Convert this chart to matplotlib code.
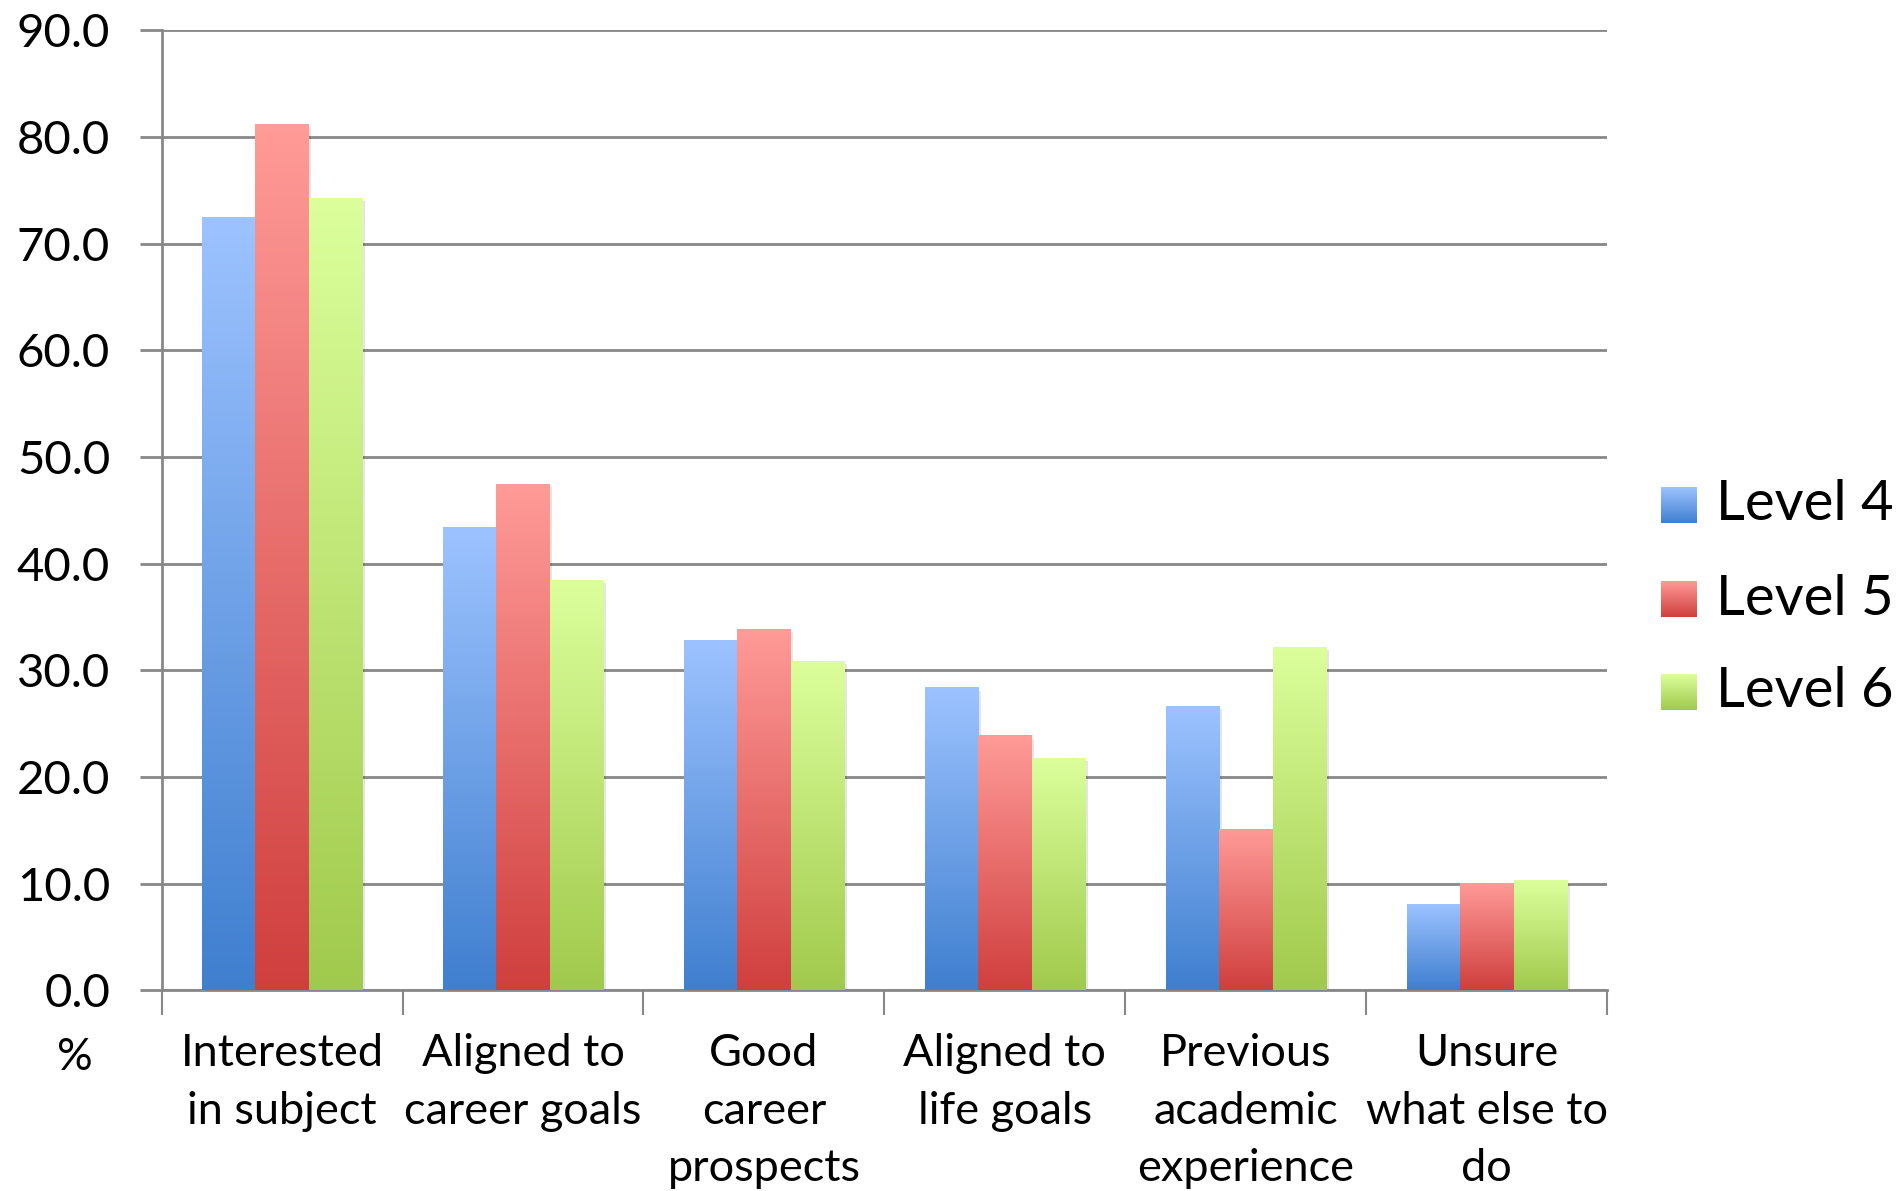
import matplotlib
matplotlib.use("Agg")
matplotlib.rcParams["font.family"] = ["Lato", "DejaVu Sans"]
import matplotlib.pyplot as plt
import numpy as np
from matplotlib.colors import LinearSegmentedColormap
from matplotlib.patches import Rectangle

categories = ["Interested\nin subject", "Aligned to\ncareer goals",
              "Good\ncareer\nprospects", "Aligned to\nlife goals",
              "Previous\nacademic\nexperience", "Unsure\nwhat else to\ndo"]
level4 = [72.5, 43.4, 32.8, 28.4, 26.7, 8.1]
level5 = [81.2, 47.5, 33.9, 23.9, 15.1, 10.1]
level6 = [74.3, 38.5, 30.9, 21.8, 32.2, 10.3]
series_names = ["Level 4", "Level 5", "Level 6"]
yticks = np.arange(0, 91, 10)

# (bottom colour, top colour) per series
GRADS = [("#3f7fcf", "#9dc3ff"), ("#cf3f3e", "#ff9b98"), ("#a0ca4c", "#dcff9c")]
GRID = "#888888"

fig = plt.figure(figsize=(19.01, 11.91), dpi=100)
ax = fig.add_axes([0.085, 0.1685, 0.7605, 0.806])

n = len(categories)
x = np.arange(n) + 0.5
w = 1 / 4.5
series = [level4, level5, level6]
grad = np.linspace(0, 1, 256).reshape(-1, 1)

for k, vals in enumerate(series):
    cmap = LinearSegmentedColormap.from_list(f"g{k}", GRADS[k])
    bars = ax.bar(x + (k - 1) * w, vals, w, color="none", zorder=3)
    for b in bars:
        x0, h = b.get_x(), b.get_height()
        # soft shadow to the right
        ax.add_patch(Rectangle((x0 + 0.01, 0), w, h - 0.3, color="black",
                               alpha=0.10, lw=0, zorder=2.5))
        im = ax.imshow(grad, cmap=cmap, origin="lower", aspect="auto",
                       extent=[x0, x0 + w, 0, h], zorder=3)
        im.set_clip_path(b)

ax.set_xlim(0, n)
ax.set_ylim(0, 90)

ax.set_yticks(yticks)
ax.set_yticklabels([f"{v:.1f}" for v in yticks], fontsize=34)
ax.yaxis.grid(True, color=GRID, lw=2, zorder=1)
ax.set_axisbelow(True)

ax.set_xticks(np.arange(n + 1))
ax.set_xticklabels([])
ax.set_xticks(x, minor=True)
ax.set_xticklabels(categories, minor=True, fontsize=32.5, linespacing=1.5)
ax.tick_params(axis="x", which="minor", length=0, pad=31)
ax.tick_params(axis="x", which="major", length=18, width=1.5, color=GRID)
ax.tick_params(axis="y", length=16, width=2, color=GRID, pad=21)

for s in ["top", "right"]:
    ax.spines[s].set_visible(False)
ax.spines["left"].set_color(GRID)
ax.spines["left"].set_linewidth(2)
ax.spines["bottom"].set_color(GRID)
ax.spines["bottom"].set_linewidth(2)

fig.text(75 / 1901, 1 - 1057 / 1191, "%", fontsize=32, ha="center", va="center")

# legend: gradient squares + labels
for k, (name, yc) in enumerate(zip(series_names, [0.576, 0.497, 0.419])):
    lax = fig.add_axes([0.8738, yc - 0.0151, 0.0189, 0.0302])
    cmap = LinearSegmentedColormap.from_list(f"l{k}", GRADS[k])
    lax.imshow(grad, cmap=cmap, origin="lower", aspect="auto")
    lax.axis("off")
    fig.text(0.9025, yc, name, fontsize=40.5, ha="left", va="center")

fig.savefig("out.png", dpi=100)
